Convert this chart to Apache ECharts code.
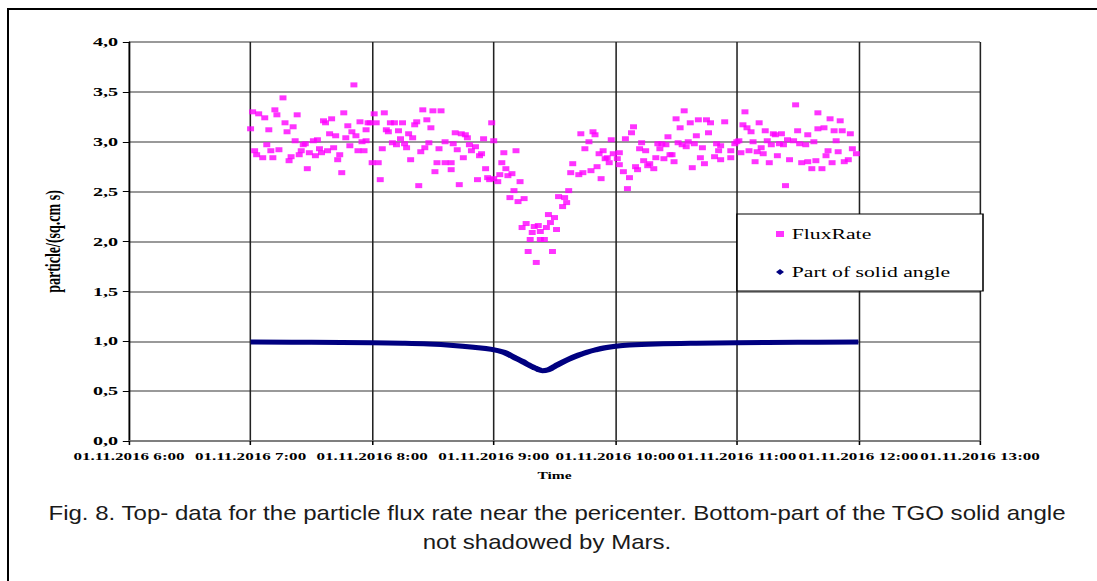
<!DOCTYPE html>
<html>
<head>
<meta charset="utf-8">
<script src="https://cdn.jsdelivr.net/npm/echarts@6/dist/echarts.min.js"></script>
<style>
  html, body { margin: 0; padding: 0; background: #fff; }
  #frame { position: absolute; left: 0; top: 0; width: 1097px; height: 581px; }
  #chart { position: absolute; left: 0; top: 0; height: 581px; transform-origin: 0 0; }
</style>
</head>
<body>
<div id="frame"></div>
<div id="chart"></div>
<script>
// FluxRate points, time of day and particle/(sq.cm s)
const fluxTime = [
  '7:00', '7:01', '7:02', '7:03', '7:04', '7:06', '7:07', '7:08', '7:09', '7:10',
  '7:11', '7:12', '7:13', '7:14', '7:16', '7:17', '7:18', '7:19', '7:20', '7:21',
  '7:22', '7:23', '7:24', '7:25', '7:26', '7:27', '7:28', '7:29', '7:31', '7:32',
  '7:33', '7:34', '7:35', '7:36', '7:37', '7:38', '7:39', '7:40', '7:41', '7:42',
  '7:43', '7:44', '7:45', '7:46', '7:47', '7:48', '7:49', '7:50', '7:51', '7:52',
  '7:53', '7:54', '7:55', '7:56', '7:57', '7:57', '7:58', '7:59', '8:00', '8:01',
  '8:02', '8:03', '8:04', '8:05', '8:06', '8:07', '8:08', '8:09', '8:10', '8:11',
  '8:12', '8:13', '8:14', '8:15', '8:16', '8:17', '8:18', '8:19', '8:20', '8:21',
  '8:22', '8:23', '8:24', '8:25', '8:26', '8:27', '8:28', '8:29', '8:30', '8:31',
  '8:32', '8:33', '8:34', '8:36', '8:36', '8:39', '8:39', '8:40', '8:41', '8:42',
  '8:43', '8:44', '8:45', '8:46', '8:47', '8:48', '8:49', '8:51', '8:52', '8:53',
  '8:54', '8:55', '8:56', '8:57', '8:58', '8:59', '9:00', '9:00', '9:02', '9:03',
  '9:04', '9:05', '9:06', '9:07', '9:08', '9:09', '9:10', '9:11', '9:12', '9:13',
  '9:14', '9:15', '9:16', '9:17', '9:18', '9:19', '9:20', '9:21', '9:22', '9:23',
  '9:23', '9:25', '9:26', '9:27', '9:28', '9:29', '9:30', '9:31', '9:32', '9:34',
  '9:35', '9:36', '9:37', '9:38', '9:39', '9:42', '9:43', '9:44', '9:45', '9:47',
  '9:48', '9:49', '9:50', '9:51', '9:52', '9:53', '9:54', '9:55', '9:56', '9:57',
  '9:58', '9:59', '10:01', '10:02', '10:02', '10:04', '10:05', '10:06', '10:07', '10:08',
  '10:09', '10:10', '10:11', '10:12', '10:13', '10:14', '10:15', '10:16', '10:17', '10:19',
  '10:20', '10:21', '10:22', '10:23', '10:24', '10:25', '10:26', '10:27', '10:28', '10:29',
  '10:30', '10:31', '10:32', '10:33', '10:34', '10:35', '10:36', '10:37', '10:38', '10:39',
  '10:40', '10:41', '10:42', '10:43', '10:44', '10:45', '10:46', '10:47', '10:49', '10:50',
  '10:51', '10:52', '10:52', '10:54', '10:57', '10:57', '10:59', '11:00', '11:01', '11:02',
  '11:03', '11:04', '11:05', '11:06', '11:07', '11:08', '11:09', '11:10', '11:11', '11:12',
  '11:13', '11:14', '11:15', '11:16', '11:17', '11:18', '11:19', '11:20', '11:21', '11:22',
  '11:23', '11:24', '11:25', '11:26', '11:28', '11:29', '11:30', '11:31', '11:32', '11:34',
  '11:35', '11:35', '11:37', '11:38', '11:39', '11:40', '11:40', '11:42', '11:43', '11:44',
  '11:45', '11:46', '11:47', '11:48', '11:49', '11:50', '11:51', '11:52', '11:53', '11:55',
  '11:56', '11:57', '11:59'
]
const fluxRate = [
  3.13, 3.30, 2.91, 2.87, 3.28, 2.84, 3.24, 2.97, 3.12, 2.91,
  2.84, 3.32, 3.27, 2.92, 3.44, 3.19, 3.10, 2.81, 2.85, 3.15,
  3.01, 3.27, 2.87, 2.91, 2.97, 2.98, 2.73, 2.89, 3.01, 2.86,
  3.02, 2.93, 2.89, 3.21, 3.19, 2.91, 3.08, 3.23, 2.94, 3.06,
  2.82, 2.87, 2.69, 3.29, 3.04, 3.16, 2.96, 3.10, 3.57, 3.06,
  2.91, 3.20, 3.00, 2.91, 3.01, 3.12, 3.19, 3.19, 2.79, 3.28,
  3.19, 2.79, 2.62, 2.93, 3.29, 3.12, 3.10, 3.19, 2.99, 3.19,
  2.97, 3.11, 3.03, 3.19, 2.98, 2.94, 3.08, 2.82, 3.04, 3.17,
  3.20, 2.56, 2.90, 3.32, 2.94, 3.22, 2.99, 3.14, 3.31, 2.70,
  2.79, 2.93, 3.31, 3.00, 2.79, 2.79, 2.72, 2.98, 3.09, 2.92,
  2.57, 3.08, 2.84, 3.07, 3.04, 2.97, 2.91, 2.95, 2.62, 2.86,
  2.88, 3.03, 2.73, 2.64, 2.62, 3.19, 3.01, 2.63, 2.60, 2.67,
  2.79, 2.89, 2.73, 2.66, 2.44, 2.68, 2.51, 2.91, 2.40, 2.60,
  2.14, 2.43, 2.18, 1.90, 2.02, 2.09, 2.15, 1.79, 2.16, 2.10,
  2.02, 2.02, 2.14, 2.27, 2.19, 1.90, 2.24, 2.12, 2.45, 2.35,
  2.44, 2.39, 2.51, 2.69, 2.78, 2.67, 3.08, 2.69, 2.93, 3.00,
  2.71, 3.10, 3.07, 2.75, 2.88, 2.63, 2.91, 2.83, 2.84, 2.79,
  3.02, 2.88, 2.83, 2.89, 2.77, 2.70, 3.03, 2.53, 2.64, 3.09,
  3.15, 2.75, 2.72, 2.93, 2.99, 2.81, 2.91, 2.76, 2.78, 2.73,
  2.84, 2.98, 2.93, 2.98, 2.83, 2.97, 3.05, 2.87, 2.87, 2.80,
  3.23, 2.99, 3.14, 2.97, 3.31, 2.95, 3.00, 3.19, 2.74, 2.98,
  3.06, 3.22, 2.84, 2.94, 2.78, 3.22, 3.09, 3.19, 2.85, 2.98,
  2.91, 2.96, 2.82, 3.20, 2.84, 2.91, 2.98, 3.00, 3.01, 2.89,
  3.17, 3.30, 3.14, 2.91, 3.10, 3.00, 2.80, 2.90, 3.19, 2.94,
  2.88, 3.11, 3.01, 2.79, 2.97, 3.08, 3.07, 2.86, 2.98, 3.08,
  2.97, 2.56, 3.02, 2.82, 3.01, 3.37, 3.11, 2.98, 2.79, 2.97,
  3.07, 2.80, 2.73, 3.00, 2.81, 3.29, 3.13, 2.73, 3.14, 2.86,
  2.91, 3.23, 2.79, 3.11, 3.01, 2.90, 3.21, 3.11, 2.80, 2.82,
  3.08, 2.93, 2.88
]
// part of the solid angle not shadowed by Mars
const angleTime = ['7:00', '7:30', '8:00', '8:15', '8:28', '8:40', '8:50', '8:59', '9:05', '9:10',
  '9:14', '9:17', '9:20', '9:22', '9:24', '9:27', '9:29', '9:32', '9:37', '9:42',
  '9:46', '9:50', '9:55', '10:00', '10:07', '10:20', '10:40', '11:00', '11:30', '12:00']
const angleValue = [0.993, 0.99, 0.985, 0.98, 0.972, 0.958, 0.94, 0.919, 0.89, 0.84,
  0.80, 0.765, 0.735, 0.717, 0.705, 0.715, 0.735, 0.77, 0.82, 0.862,
  0.89, 0.912, 0.935, 0.95, 0.962, 0.972, 0.98, 0.985, 0.99, 0.993]

const S = 1.55 // horizontal stretch of the original chart picture
const W = 1097
const H = 581
const serif = '"Liberation Serif", "Times New Roman", serif'
const captionFont = '21px "Liberation Sans", Arial, sans-serif'

const toMin = (t) => {
  let p = t.split(':')
  return parseInt(p[0]) * 60 + parseInt(p[1])
}
const fluxData = fluxTime.map((t, i) => [toMin(t), fluxRate[i]])
const angleData = angleTime.map((t, i) => [toMin(t), angleValue[i]])

// frame + caption
const frame = echarts.init(document.getElementById('frame'), null, { renderer: 'svg' })
frame.setOption({
  backgroundColor: '#fff',
  animation: false,
  graphic: [
    { type: 'line', shape: { x1: 7, y1: 9, x2: W, y2: 9 }, style: { stroke: '#000', lineWidth: 2 } },
    { type: 'line', shape: { x1: 8, y1: 8, x2: 8, y2: H }, style: { stroke: '#000', lineWidth: 2 } },
    {
      type: 'text',
      x: 557,
      y: 513,
      scaleX: 1.145,
      style: {
        text: 'Fig. 8. Top- data for the particle flux rate near the pericenter. Bottom-part of the TGO solid angle',
        x: 0, y: 0, align: 'center', verticalAlign: 'middle',
        font: captionFont, fill: '#1a1a1a'
      }
    },
    {
      type: 'text',
      x: 547,
      y: 542,
      scaleX: 1.145,
      style: {
        text: 'not shadowed by Mars.',
        x: 0, y: 0, align: 'center', verticalAlign: 'middle',
        font: captionFont, fill: '#1a1a1a'
      }
    }
  ]
})

// the chart itself, drawn narrow and stretched sideways like the source image
const chartDiv = document.getElementById('chart')
chartDiv.style.width = (W / S) + 'px'
chartDiv.style.transform = 'scaleX(' + S + ')'
const chart = echarts.init(chartDiv, null, { renderer: 'svg' })
const option = {
  animation: false,
  grid: {
    left: 129 / S,
    top: 42,
    width: 851 / S,
    height: 399
  },
  legend: {
    orient: 'vertical',
    left: 776 / S,
    top: 226,
    padding: 0,
    itemGap: 22,
    itemWidth: 8 / S,
    itemHeight: 6,
    selectedMode: false,
    z: 60,
    textStyle: {
      fontFamily: serif,
      fontSize: 14,
      lineHeight: 16,
      color: '#000'
    },
    data: [
      { name: 'FluxRate', icon: 'rect' },
      { name: 'Part of solid angle', icon: 'diamond' }
    ]
  },
  graphic: [{
    type: 'rect',
    z: 50,
    shape: { x: 737 / S, y: 214, width: 246 / S, height: 77 },
    style: { fill: '#fff', stroke: '#000', lineWidth: 1 }
  }],
  xAxis: {
    type: 'value',
    min: 360,
    max: 780,
    interval: 60,
    name: 'Time',
    nameLocation: 'middle',
    nameGap: 30,
    nameTextStyle: { fontFamily: serif, fontWeight: 'bold', fontSize: 10, color: '#000' },
    axisLine: { lineStyle: { color: '#777', width: 1.5 } },
    axisTick: { length: 4, lineStyle: { color: '#000' } },
    axisLabel: {
      margin: 10,
      fontFamily: serif,
      fontWeight: 'bold',
      fontSize: 11,
      color: '#000',
      formatter: (v) => '01.11.2016 ' + Math.floor(v / 60) + ':00'
    },
    splitLine: { show: true, lineStyle: { color: '#222', width: 1 } }
  },
  yAxis: {
    type: 'value',
    min: 0,
    max: 4,
    interval: 0.5,
    name: 'particle/(sq.cm s)',
    nameLocation: 'middle',
    nameGap: 42,
    nameTextStyle: { fontFamily: serif, fontWeight: 'bold', fontSize: 14, color: '#000' },
    axisLine: { show: true, lineStyle: { color: '#000', width: 1 } },
    axisTick: { show: true, length: 4, lineStyle: { color: '#000' } },
    axisLabel: {
      margin: 7,
      fontFamily: serif,
      fontWeight: 'bold',
      fontSize: 13,
      color: '#000',
      formatter: (v) => v.toFixed(1).replace('.', ',')
    },
    splitLine: { show: true, lineStyle: { color: '#777', width: 1.5 } }
  },
  series: [
    {
      name: 'FluxRate',
      type: 'scatter',
      symbol: 'rect',
      symbolSize: [4.5, 5],
      itemStyle: { color: '#ff00ff' },
      data: fluxData
    },
    {
      name: 'Part of solid angle',
      type: 'line',
      smooth: 0.4,
      showSymbol: false,
      itemStyle: { color: '#000080' },
      lineStyle: { color: '#000080', width: 5 },
      data: angleData
    }
  ]
}
chart.setOption(option)
</script>
</body>
</html>
